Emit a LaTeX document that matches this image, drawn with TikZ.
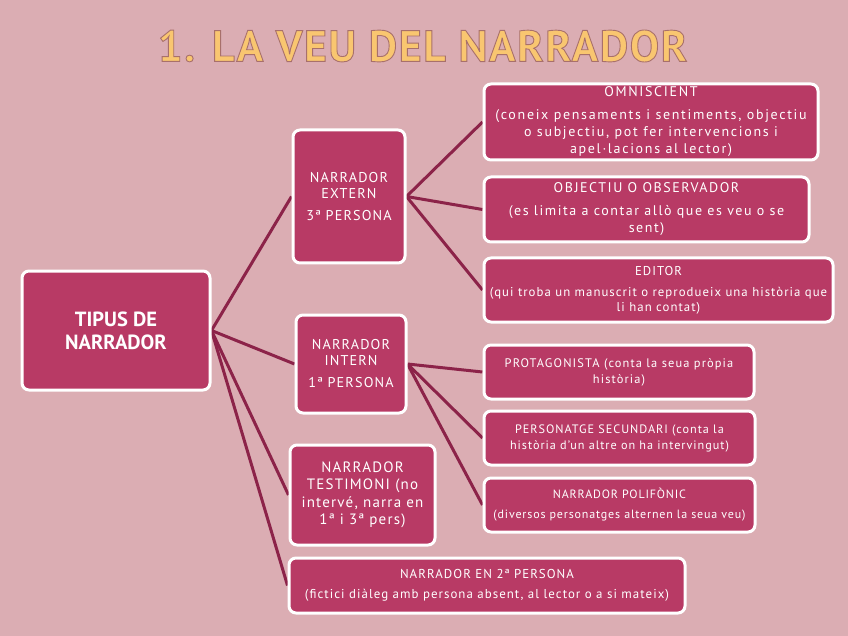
\documentclass[tikz,border=0pt]{standalone}
\usepackage{fontspec}
\setmainfont{PT Sans}
\usetikzlibrary{backgrounds}
\definecolor{bgpink}{HTML}{DBADB3}
\definecolor{boxfill}{HTML}{B83A65}
\definecolor{lnk}{HTML}{8C2349}
\definecolor{titlefill}{HTML}{F9C670}
\newcommand{\ttl}[1]{\fontsize{44}{48}\selectfont\bfseries\addfontfeatures{LetterSpace=3.5}%
  \special{pdf:code 2 Tr 0.9 w 0.66 0.44 0.42 RG}#1\special{pdf:code 0 Tr}}
\begin{document}
\begin{tikzpicture}[x=1pt,y=-1pt,
  box/.style={draw=white, line width=3pt, fill=boxfill, rounded corners=7pt,
    text=white, align=center, inner sep=2pt},
  link/.style={draw=lnk, line width=3pt},
  ttlpart/.style={inner sep=0pt, anchor=center}]
\begin{scope}[on background layer]
\fill[bgpink] (0,0) rectangle (848,636);
\end{scope}
\useasboundingbox (0,0) rectangle (848,636);
% title
\node[ttlpart, text=titlefill] (title) at (422.5,46) {\ttl{1. LA VEU DEL NARRADOR}};
% level 0
\node[box, minimum width=188pt, minimum height=119pt, font=\fontsize{20.5}{23}\selectfont\bfseries] (tipus) at (116,330.5) {TIPUS DE\\NARRADOR};
% level 1
\node[box, minimum width=112pt, minimum height=133pt, font=\fontsize{14.2}{16}\selectfont\addfontfeatures{LetterSpace=8}] (extern) at (349,196.5) {NARRADOR\\EXTERN\\[6pt]3ª PERSONA};
\node[box, minimum width=110pt, minimum height=98pt, font=\fontsize{14.2}{16}\selectfont\addfontfeatures{LetterSpace=8}] (intern) at (351,364) {NARRADOR\\INTERN\\[6pt]1ª PERSONA};
\node[box, minimum width=145pt, minimum height=100pt, font=\fontsize{15}{17.5}\selectfont\addfontfeatures{LetterSpace=8}] (testimoni) at (362.5,495) {NARRADOR\\TESTIMONI (no\\intervé, narra en\\1ª i 3ª pers)};
\node[box, minimum width=396pt, minimum height=55pt, font=\fontsize{12.9}{16}\selectfont\addfontfeatures{LetterSpace=8}] (segona) at (487,585.5) {NARRADOR EN 2ª PERSONA\\[4pt](fictici diàleg amb persona absent, al lector o a si mateix)};
% level 2 extern
\node[box, minimum width=334pt, minimum height=76pt, font=\fontsize{14}{17}\selectfont\addfontfeatures{LetterSpace=12}] (omni) at (651,122) {OMNISCIENT\\[6pt](coneix pensaments i sentiments, objectiu\\o subjectiu, pot fer intervencions i\\apel·lacions al lector)};
\node[box, minimum width=325pt, minimum height=65pt, font=\fontsize{14}{17}\selectfont\addfontfeatures{LetterSpace=11}] (obj) at (646.5,209.5) {OBJECTIU O OBSERVADOR\\[6pt](es limita a contar allò que es veu o se\\sent)};
\node[box, minimum width=349pt, minimum height=64pt, font=\fontsize{12.8}{14.5}\selectfont\addfontfeatures{LetterSpace=8}] (editor) at (658.5,290) {EDITOR\\[7pt](qui troba un manuscrit o reprodueix una història que\\li han contat)};
% level 2 intern
\node[box, minimum width=270pt, minimum height=54pt, font=\fontsize{12.4}{16}\selectfont\addfontfeatures{LetterSpace=9}] (prota) at (619,372) {PROTAGONISTA (conta la seua pròpia\\història)};
\node[box, minimum width=271pt, minimum height=54pt, font=\fontsize{12.2}{16}\selectfont\addfontfeatures{LetterSpace=8}] (secund) at (619.5,438) {PERSONATGE SECUNDARI (conta la\\història d’un altre on ha intervingut)};
\node[box, minimum width=271pt, minimum height=54pt, font=\fontsize{12}{16}\selectfont\addfontfeatures{LetterSpace=7}] (poli) at (619.5,505) {NARRADOR POLIFÒNIC\\[4pt](diversos personatges alternen la seua veu)};
% connectors
\begin{scope}[on background layer]
\draw[link] (tipus.east) -- (extern.west);
\draw[link] (tipus.east) -- (intern.west);
\draw[link] (tipus.east) -- (testimoni.west);
\draw[link] (tipus.east) -- (segona.west);
\draw[link] (extern.east) -- (omni.west);
\draw[link] (extern.east) -- (obj.west);
\draw[link] (extern.east) -- (editor.west);
\draw[link] (intern.east) -- (prota.west);
\draw[link] (intern.east) -- (secund.west);
\draw[link] (intern.east) -- (poli.west);
\end{scope}
\end{tikzpicture}
\end{document}
